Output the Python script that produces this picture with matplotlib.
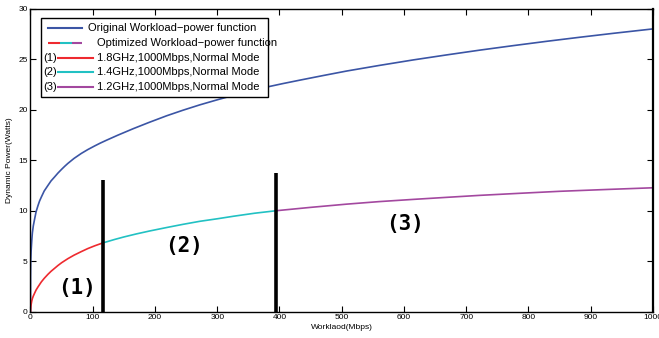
import matplotlib
matplotlib.use("Agg")
import matplotlib.pyplot as plt
from matplotlib.lines import Line2D
from matplotlib.patches import Rectangle

plt.rcParams['font.family'] = ['Liberation Sans', 'DejaVu Sans']

# ---- data ----
orig_x = [0, 0.1, 0.4, 1, 2, 3, 4.5, 6.7, 9, 12, 14.5, 17.4, 22, 28, 33, 38.8, 44,
          50, 55, 60, 70, 81.6, 92, 103, 112, 121.8, 140, 165, 190, 218.8, 245, 272,
          300, 325.8, 352, 379.4, 405, 433, 470, 508, 560, 615, 668, 722, 775, 829,
          882, 936, 1000]
orig_y = [0, 3.5, 5.0, 6.0, 7.0, 7.8, 8.5, 9.2, 9.9, 10.5, 10.95, 11.35, 11.95, 12.5,
          12.95, 13.35, 13.72, 14.1, 14.4, 14.68, 15.18, 15.67, 16.05, 16.41, 16.69,
          16.97, 17.47, 18.12, 18.73, 19.4, 19.95, 20.48, 20.98, 21.42, 21.84, 22.24,
          22.58, 22.93, 23.38, 23.83, 24.38, 24.93, 25.42, 25.9, 26.34, 26.77, 27.17,
          27.56, 28.0]

mode1_x = [0, 0.5, 1, 2, 3, 4.5, 6.7, 9, 12, 17.4, 22, 28, 33, 38.8, 44, 50, 55, 60,
           70, 81.6, 92, 103, 115.7]
mode1_y = [0, 0.45, 0.7, 1.05, 1.3, 1.55, 1.85, 2.15, 2.45, 2.95, 3.3, 3.7, 4.0, 4.3,
           4.57, 4.85, 5.05, 5.25, 5.6, 5.95, 6.25, 6.52, 6.8]

mode2_x = [115.7, 135, 150, 170, 192, 220, 245, 272, 300, 326, 360, 395]
mode2_y = [6.8, 7.15, 7.4, 7.7, 8.0, 8.35, 8.65, 8.95, 9.2, 9.45, 9.75, 10.0]

mode3_x = [395, 450, 508, 560, 615, 668, 722, 785, 850, 925, 1000]
mode3_y = [10.0, 10.33, 10.65, 10.9, 11.12, 11.32, 11.52, 11.72, 11.92, 12.1, 12.27]

split_x = [115.7, 395]
split_top = [13.0, 13.7]

region_labels = ['(1)', '(2)', '(3)']
region_x = [74, 247, 602]
region_y = [2.3, 6.5, 8.7]

legend_labels = ['Original Workload\u2212power function',
                 'Optimized Workload\u2212power function',
                 '1.8GHz,1000Mbps,Normal Mode',
                 '1.4GHz,1000Mbps,Normal Mode',
                 '1.2GHz,1000Mbps,Normal Mode']

c_blue = '#3b55a5'
c_red = '#ee2a2f'
c_cyan = '#22c1c3'
c_purple = '#a3489f'

fig = plt.figure(figsize=(6.59, 3.38), dpi=100)
ax = fig.add_axes([30.5 / 659, 1 - 311.7 / 338, (653 - 30.5) / 659, (311.7 - 8.7) / 338])

ax.plot(orig_x, orig_y, color=c_blue, lw=1.2, solid_joinstyle='round')
ax.plot(mode1_x, mode1_y, color=c_red, lw=1.2, solid_joinstyle='round')
ax.plot(mode2_x, mode2_y, color=c_cyan, lw=1.2, solid_joinstyle='round')
ax.plot(mode3_x, mode3_y, color=c_purple, lw=1.2, solid_joinstyle='round')
for sx, st in zip(split_x, split_top):
    ax.plot([sx, sx], [0, st], color='black', lw=2.6, solid_capstyle='butt')

for t, x, y in zip(region_labels, region_x, region_y):
    ax.text(x, y, t, ha='center', va='center', fontsize=15, fontweight='bold',
            family='DejaVu Sans Mono')

ax.set_xlim(0, 1000)
ax.set_ylim(0, 30)
ax.set_xticks(range(0, 1001, 100))
ax.set_yticks(range(0, 31, 5))
ax.tick_params(direction='in', top=True, right=True, length=4, width=0.8,
               labelsize=6, pad=2)
for s in ax.spines.values():
    s.set_linewidth(1.0)
ax.spines['right'].set_linewidth(1.6)
ax.set_xlabel('Worklaod(Mbps)', fontsize=6, labelpad=2)
ax.set_ylabel('Dynamic Power(Watts)', fontsize=6, labelpad=4)

# ---- legend drawn in axes-pixel coordinates ----
def px(x, y):
    return ((x - 30.5) / (653 - 30.5), (311.7 - y) / (311.7 - 8.7))

x0, y0 = px(40.7, 97.3)
x1, y1 = px(268.3, 18.3)
ax.add_patch(Rectangle((x0, y0), x1 - x0, y1 - y0, transform=ax.transAxes,
                       facecolor='white', edgecolor='black', lw=1.0, zorder=5))
rows = [28.3, 43.3, 57.7, 72.3, 87.3]
fs = 8
# row 1
a, b = px(48, rows[0]); c, _ = px(82, rows[0])
ax.add_line(Line2D([a, c], [b, b], transform=ax.transAxes, color=c_blue, lw=1.5, zorder=6))
tx, _ = px(88, rows[0])
ax.text(tx, b, legend_labels[0], transform=ax.transAxes, fontsize=fs, va='center', zorder=6)
# row 2 tri-colour
segs = [(48, 60, c_red), (60, 72, c_cyan), (72, 82, c_purple)]
for s0, s1, col in segs:
    a, b = px(s0, rows[1]); c, _ = px(s1, rows[1])
    ax.add_line(Line2D([a, c], [b, b], transform=ax.transAxes, color=col, lw=1.5,
                       zorder=6, solid_capstyle='butt'))
tx, _ = px(97, rows[1])
ax.text(tx, b, legend_labels[1], transform=ax.transAxes, fontsize=fs, va='center', zorder=6)
# rows 3-5
for i, col in enumerate([c_red, c_cyan, c_purple]):
    r = rows[2 + i]
    a, b = px(58, r); c, _ = px(93, r)
    ax.add_line(Line2D([a, c], [b, b], transform=ax.transAxes, color=col, lw=1.5, zorder=6))
    lx, _ = px(43, r)
    ax.text(lx, b, region_labels[i], transform=ax.transAxes, fontsize=fs, va='center', zorder=6)
    tx, _ = px(97, r)
    ax.text(tx, b, legend_labels[2 + i], transform=ax.transAxes, fontsize=fs, va='center', zorder=6)

fig.savefig('out.png', dpi=100)
